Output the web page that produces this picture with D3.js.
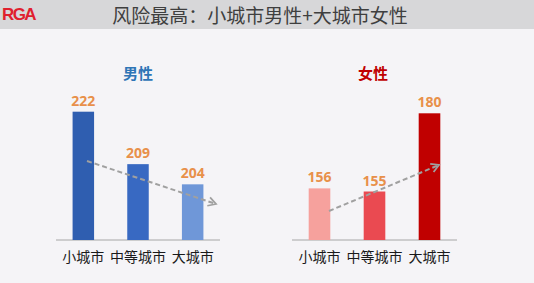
<!DOCTYPE html>
<html><head><meta charset="utf-8">
<script src="https://cdn.jsdelivr.net/npm/d3@7"></script>
<style>body{margin:0;background:#f5f4f7;}svg{display:block;}</style>
</head><body>
<script>
const categories = ["小城市", "中等城市", "大城市"];
const maleValues = [222, 209, 204];
const femaleValues = [156, 155, 180];
const maleColors = ["#2f5eb0", "#3869c2", "#6f97d8"];
const femaleColors = ["#f6a19d", "#ea4a51", "#c00000"];
const title = "风险最高：小城市男性+大城市女性";

const W = 534, H = 283;
const svg = d3.select("body").append("svg").attr("width", W).attr("height", H);
svg.append("rect").attr("width", W).attr("height", H).attr("fill", "#f5f4f7");
svg.append("rect").attr("width", W).attr("height", 29).attr("fill", "#d7d7d9");
svg.append("text").attr("x", 2).attr("y", 20).text("RGA")
  .attr("font-family", "Liberation Sans, Arial, sans-serif").attr("font-weight", "bold")
  .attr("font-size", 17).attr("letter-spacing", -1.6).attr("fill", "#e0202e");
svg.append("text").attr("x", 260).attr("y", 22.5).attr("text-anchor", "middle").text(title)
  .attr("font-family", "Noto Sans CJK SC").attr("font-size", 19).attr("fill", "#3f3f3f");

const defs = svg.append("defs");
defs.append("marker").attr("id", "arr").attr("viewBox", "0 0 10 10").attr("refX", 8).attr("refY", 5)
  .attr("markerWidth", 5.5).attr("markerHeight", 5.5).attr("orient", "auto")
  .append("path").attr("d", "M1,1 L8,5 L1,9").attr("fill", "none").attr("stroke", "#a0a0a0").attr("stroke-width", 1.6);

function panel(cfg) {
  const x = d3.scaleBand().domain(categories).range(cfg.xr).paddingInner(0.607).paddingOuter(0.3035);
  const y = d3.scaleLinear().domain(cfg.domain).range([240, cfg.topPx]);
  const g = svg.append("g");
  g.append("line").attr("x1", cfg.xr[0]).attr("x2", cfg.xr[1]).attr("y1", 240).attr("y2", 240)
    .attr("stroke", "#a6a6a6").attr("stroke-width", 1);
  g.selectAll("rect.bar").data(cfg.values).join("rect").attr("class", "bar")
    .attr("x", (d, i) => x(categories[i])).attr("width", x.bandwidth())
    .attr("y", d => y(d)).attr("height", d => 240 - y(d))
    .attr("fill", (d, i) => cfg.colors[i]);
  g.selectAll("text.val").data(cfg.values).join("text").attr("class", "val")
    .attr("x", (d, i) => x(categories[i]) + x.bandwidth() / 2).attr("y", d => y(d) - 6)
    .attr("text-anchor", "middle").text(d => d)
    .attr("font-family", "Open Sans, sans-serif").attr("font-weight", "bold").attr("font-size", 14)
    .attr("fill", "#e8904a");
  g.selectAll("text.cat").data(categories).join("text").attr("class", "cat")
    .attr("x", d => x(d) + x.bandwidth() / 2).attr("y", 262).attr("text-anchor", "middle").text(d => d)
    .attr("font-family", "Noto Sans CJK SC").attr("font-size", 14).attr("fill", "#1a1a1a");
  g.append("text").attr("x", cfg.titleX).attr("y", 79).attr("text-anchor", "middle").text(cfg.title)
    .attr("font-family", "Noto Sans CJK SC").attr("font-weight", "bold").attr("font-size", 15)
    .attr("fill", cfg.titleColor);
  g.append("line").attr("x1", cfg.arrow[0]).attr("y1", cfg.arrow[1]).attr("x2", cfg.arrow[2]).attr("y2", cfg.arrow[3])
    .attr("stroke", "#a0a0a0").attr("stroke-width", 2).attr("stroke-dasharray", "5,3")
    .attr("marker-end", "url(#arr)");
}

panel({values: maleValues, colors: maleColors, xr: [56, 220], domain: [190.2, 222], topPx: 111.7,
  title: "男性", titleX: 138, titleColor: "#2e75b6", arrow: [87, 161, 216, 204]});
panel({values: femaleValues, colors: femaleColors, xr: [292, 457], domain: [139.5, 180], topPx: 113.3,
  title: "女性", titleX: 373, titleColor: "#c00000", arrow: [329, 211, 439, 165]});
</script>
</body></html>
